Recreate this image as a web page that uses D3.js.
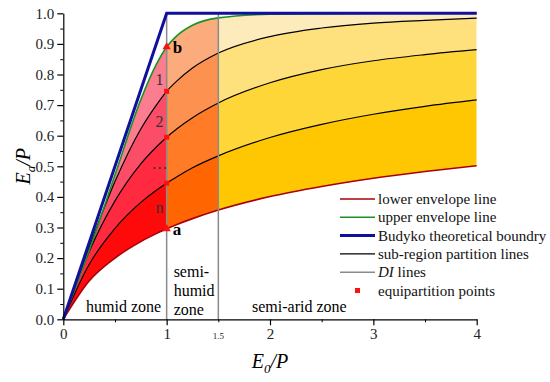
<!DOCTYPE html>
<html>
<head>
<meta charset="utf-8">
<script src="https://cdn.jsdelivr.net/npm/d3@7"></script>
<style>
    body { margin: 0; background: #fff; }
    svg, svg text { font-family: 'Liberation Serif', 'DejaVu Serif', serif; }
</style>
</head>
<body>
<svg id="chart"></svg>
<script>
// Values.
const etoP = [0, 0.25, 0.5, 0.75, 0.9, 1, 1.1, 1.25, 1.5, 2, 2.5, 3, 3.5, 4];
const lowerEnvelope = [0, 0.125, 0.2, 0.254, 0.28, 0.296, 0.31, 0.329, 0.357, 0.401, 0.434, 0.461, 0.483, 0.502];
const subLineN = [0, 0.179, 0.297, 0.382, 0.422, 0.445, 0.466, 0.495, 0.534, 0.594, 0.637, 0.67, 0.696, 0.717];
const subLine2 = [0, 0.221, 0.387, 0.508, 0.563, 0.595, 0.623, 0.659, 0.707, 0.773, 0.816, 0.845, 0.865, 0.881];
const subLine1 = [0, 0.235, 0.45, 0.622, 0.7, 0.745, 0.779, 0.821, 0.87, 0.924, 0.952, 0.968, 0.977, 0.984];
const upperEnvelope = [0, 0.225, 0.472, 0.718, 0.833, 0.89, 0.927, 0.961, 0.985, 0.997, 0.999, 1, 1, 1];
const budykoX = [0, 1, 4];
const budykoY = [0, 1, 1];
const diValues = [1, 1.5];
const zoneBounds = [[0, 1], [1, 1.5], [1.5, 4]];
const zoneNames = [['humid zone'], ['semi-', 'humid', 'zone'], ['semi-arid zone']];
const regionLabels = ['1', '2', '…', 'n'];
const xMajor = [0, 1, 2, 3, 4];
const xMinor = [0.5, 1.5, 2.5, 3.5];
const yMajor = d3.range(0, 1.001, 0.1);
const yMinor = d3.range(0.05, 1, 0.1);
const legendLabels = ['lower envelope line', 'upper envelope line', 'Budyko theoretical boundry',
    'sub-region partition lines', 'DI lines', 'equipartition points'];

// Curves ordered bottom to top, bands between consecutive curves.
const curves = [lowerEnvelope, subLineN, subLine2, subLine1, upperEnvelope];
const zoneColors = [
    ['#ff0a0a', '#ff2a40', '#fc4d68', '#fb7d8f'],
    ['#ff6602', '#ff7b25', '#fd9150', '#fcab7c'],
    ['#ffc702', '#ffd637', '#fee07c', '#fdebbb'],
];

const FONT = "'Liberation Serif', 'DejaVu Serif', serif";
const width = 550;
const height = 382;
const svg = d3.select('#chart').attr('width', width).attr('height', height).attr('font-family', FONT);

const x = d3.scaleLinear().domain([0, 4]).range([63.3, 476.7]);
const y = d3.scaleLinear().domain([0, 1]).range([319.3, 13.3]);

const defs = svg.append('defs');
zoneBounds.forEach(([a, b], i) => {
    defs.append('clipPath')
        .attr('id', `zone${i}`)
        .append('rect')
        .attr('x', x(a))
        .attr('y', 0)
        .attr('width', x(b) - x(a))
        .attr('height', height);
});

// Colored bands.
zoneBounds.forEach((zb, z) => {
    const g = svg.append('g').attr('clip-path', `url(#zone${z})`);
    for (let k = 0; k < curves.length - 1; k++) {
        const area = d3
            .area()
            .curve(d3.curveMonotoneX)
            .x((d, i) => x(etoP[i]))
            .y0((d, i) => y(curves[k][i]))
            .y1((d, i) => y(curves[k + 1][i]));
        g.append('path').attr('d', area(etoP)).attr('fill', zoneColors[z][k]);
    }
});

const lineOf = values =>
    d3
        .line()
        .curve(d3.curveMonotoneX)
        .x((d, i) => x(etoP[i]))
        .y((d, i) => y(values[i]))(etoP);

// Sub-region partition lines and envelopes.
[subLineN, subLine2, subLine1].forEach(v => {
    svg.append('path').attr('d', lineOf(v)).attr('fill', 'none').attr('stroke', '#000').attr('stroke-width', 1.2);
});
svg.append('path').attr('d', lineOf(lowerEnvelope)).attr('fill', 'none').attr('stroke', '#a8000a').attr('stroke-width', 1.6);
svg.append('path').attr('d', lineOf(upperEnvelope)).attr('fill', 'none').attr('stroke', '#1a9226').attr('stroke-width', 1.6);

// DI lines.
svg.selectAll('.di')
    .data(diValues)
    .enter()
    .append('line')
    .attr('x1', d => x(d))
    .attr('x2', d => x(d))
    .attr('y1', y(0))
    .attr('y2', y(1))
    .attr('stroke', '#8a8a8a')
    .attr('stroke-width', 1.5);

// Budyko boundary.
svg.append('path')
    .attr('d', d3.line().x((d, i) => x(budykoX[i])).y((d, i) => y(budykoY[i]))(budykoX))
    .attr('fill', 'none')
    .attr('stroke', '#10109a')
    .attr('stroke-width', 3)
    .attr('stroke-linejoin', 'miter');

// Axes.
const tickFont = g => g.selectAll('text').attr('font-family', FONT).attr('font-size', 15).attr('fill', '#222');
svg.append('g')
    .attr('transform', `translate(${x(0)},0)`)
    .call(d3.axisLeft(y).tickValues(yMinor).tickSize(3).tickFormat(''))
    .call(g => g.select('.domain').remove());
svg.append('g')
    .attr('transform', `translate(${x(0)},0)`)
    .call(d3.axisLeft(y).tickValues(yMajor).tickSize(6).tickSizeOuter(0).tickFormat(d3.format('.1f')))
    .call(tickFont)
    .call(g => g.selectAll('path, line').attr('stroke-width', 1.2));
svg.append('g')
    .attr('transform', `translate(0,${y(0)})`)
    .call(d3.axisBottom(x).tickValues(xMinor).tickSize(3).tickFormat(''))
    .call(g => g.select('.domain').remove());
svg.append('g')
    .attr('transform', `translate(0,${y(0)})`)
    .call(d3.axisBottom(x).tickValues(xMajor).tickSize(6).tickSizeOuter(0).tickFormat(d3.format('d')))
    .call(tickFont)
    .call(g => g.selectAll('path, line').attr('stroke-width', 1.2));
svg.append('text')
    .attr('x', x(1.5))
    .attr('y', y(0) + 20)
    .attr('text-anchor', 'middle')
    .attr('font-size', 9)
    .attr('fill', '#222')
    .text('1.5');

// Axis titles.
const xTitle = svg.append('text').attr('x', x(2)).attr('y', 368).attr('text-anchor', 'middle').attr('font-size', 20).attr('font-style', 'italic');
xTitle.append('tspan').text('E');
xTitle.append('tspan').attr('font-size', 13).attr('dy', 5).text('0');
xTitle.append('tspan').attr('dy', -5).text('/P');
const yTitle = svg.append('text')
    .attr('transform', `translate(30,${y(0.5)}) rotate(-90)`)
    .attr('text-anchor', 'middle')
    .attr('font-size', 20)
    .attr('font-style', 'italic');
yTitle.append('tspan').text('E');
yTitle.append('tspan').attr('font-size', 13).attr('dy', 5).text('a');
yTitle.append('tspan').attr('dy', -5).text('/P');

// Zone labels.
svg.append('text').attr('x', 86).attr('y', 312).attr('font-size', 16).text(zoneNames[0][0]);
svg.append('g')
    .selectAll('text')
    .data(zoneNames[1])
    .enter()
    .append('text')
    .attr('x', x(1) + 7)
    .attr('y', (d, i) => 277 + i * 19)
    .attr('font-size', 16)
    .text(d => d);
svg.append('text').attr('x', 252).attr('y', 312).attr('font-size', 16).text(zoneNames[2][0]);

// Region numbers inside the humid zone.
svg.append('g')
    .selectAll('text')
    .data(regionLabels)
    .enter()
    .append('text')
    .attr('x', x(0.93))
    .attr('y', (d, i) => y((curves[3 - i][4] + curves[4 - i][4]) / 2) - 3)
    .attr('text-anchor', 'middle')
    .attr('dominant-baseline', 'middle')
    .attr('font-size', 16)
    .attr('fill', '#333')
    .text(d => d);

// Equipartition points.
const idx1 = etoP.indexOf(1);
svg.selectAll('.eq')
    .data([subLineN[idx1], subLine2[idx1], subLine1[idx1]])
    .enter()
    .append('rect')
    .attr('x', x(1) - 2.5)
    .attr('y', d => y(d) - 2.5)
    .attr('width', 5)
    .attr('height', 5)
    .attr('fill', '#ff1010');
[lowerEnvelope[idx1], upperEnvelope[idx1]].forEach((v, i) => {
    svg.append('path')
        .attr('d', d3.symbol(d3.symbolTriangle, 30)())
        .attr('transform', `translate(${x(1)},${y(v)})`)
        .attr('fill', '#ff1010');
    svg.append('text')
        .attr('x', x(1) + 6)
        .attr('y', y(v) + 6)
        .attr('font-size', 17)
        .attr('font-weight', 'bold')
        .text(i ? 'b' : 'a');
});

// Legend.
const legend = svg.append('g').attr('transform', 'translate(340,199)');
const rowH = 18.3;
const strokes = [
    { color: '#a8000a', w: 1.6 },
    { color: '#1a9226', w: 1.6 },
    { color: '#10109a', w: 3 },
    { color: '#000', w: 1.2 },
    { color: '#8a8a8a', w: 1.5 },
];
legendLabels.forEach((label, i) => {
    const row = legend.append('g').attr('transform', `translate(0,${i * rowH})`);
    if (i < strokes.length) {
        row.append('line').attr('x1', 0).attr('x2', 35).attr('stroke', strokes[i].color).attr('stroke-width', strokes[i].w);
    } else {
        row.append('rect').attr('x', 15).attr('y', -2.5).attr('width', 5).attr('height', 5).attr('fill', '#ff1010');
    }
    const t = row.append('text').attr('x', 38).attr('y', 5).attr('font-size', 15).attr('fill', '#111');
    if (label.startsWith('DI')) {
        t.append('tspan').attr('font-style', 'italic').text('DI');
        t.append('tspan').text(' ' + label.slice(2));
    } else {
        t.text(label);
    }
});
</script>
</body>
</html>
